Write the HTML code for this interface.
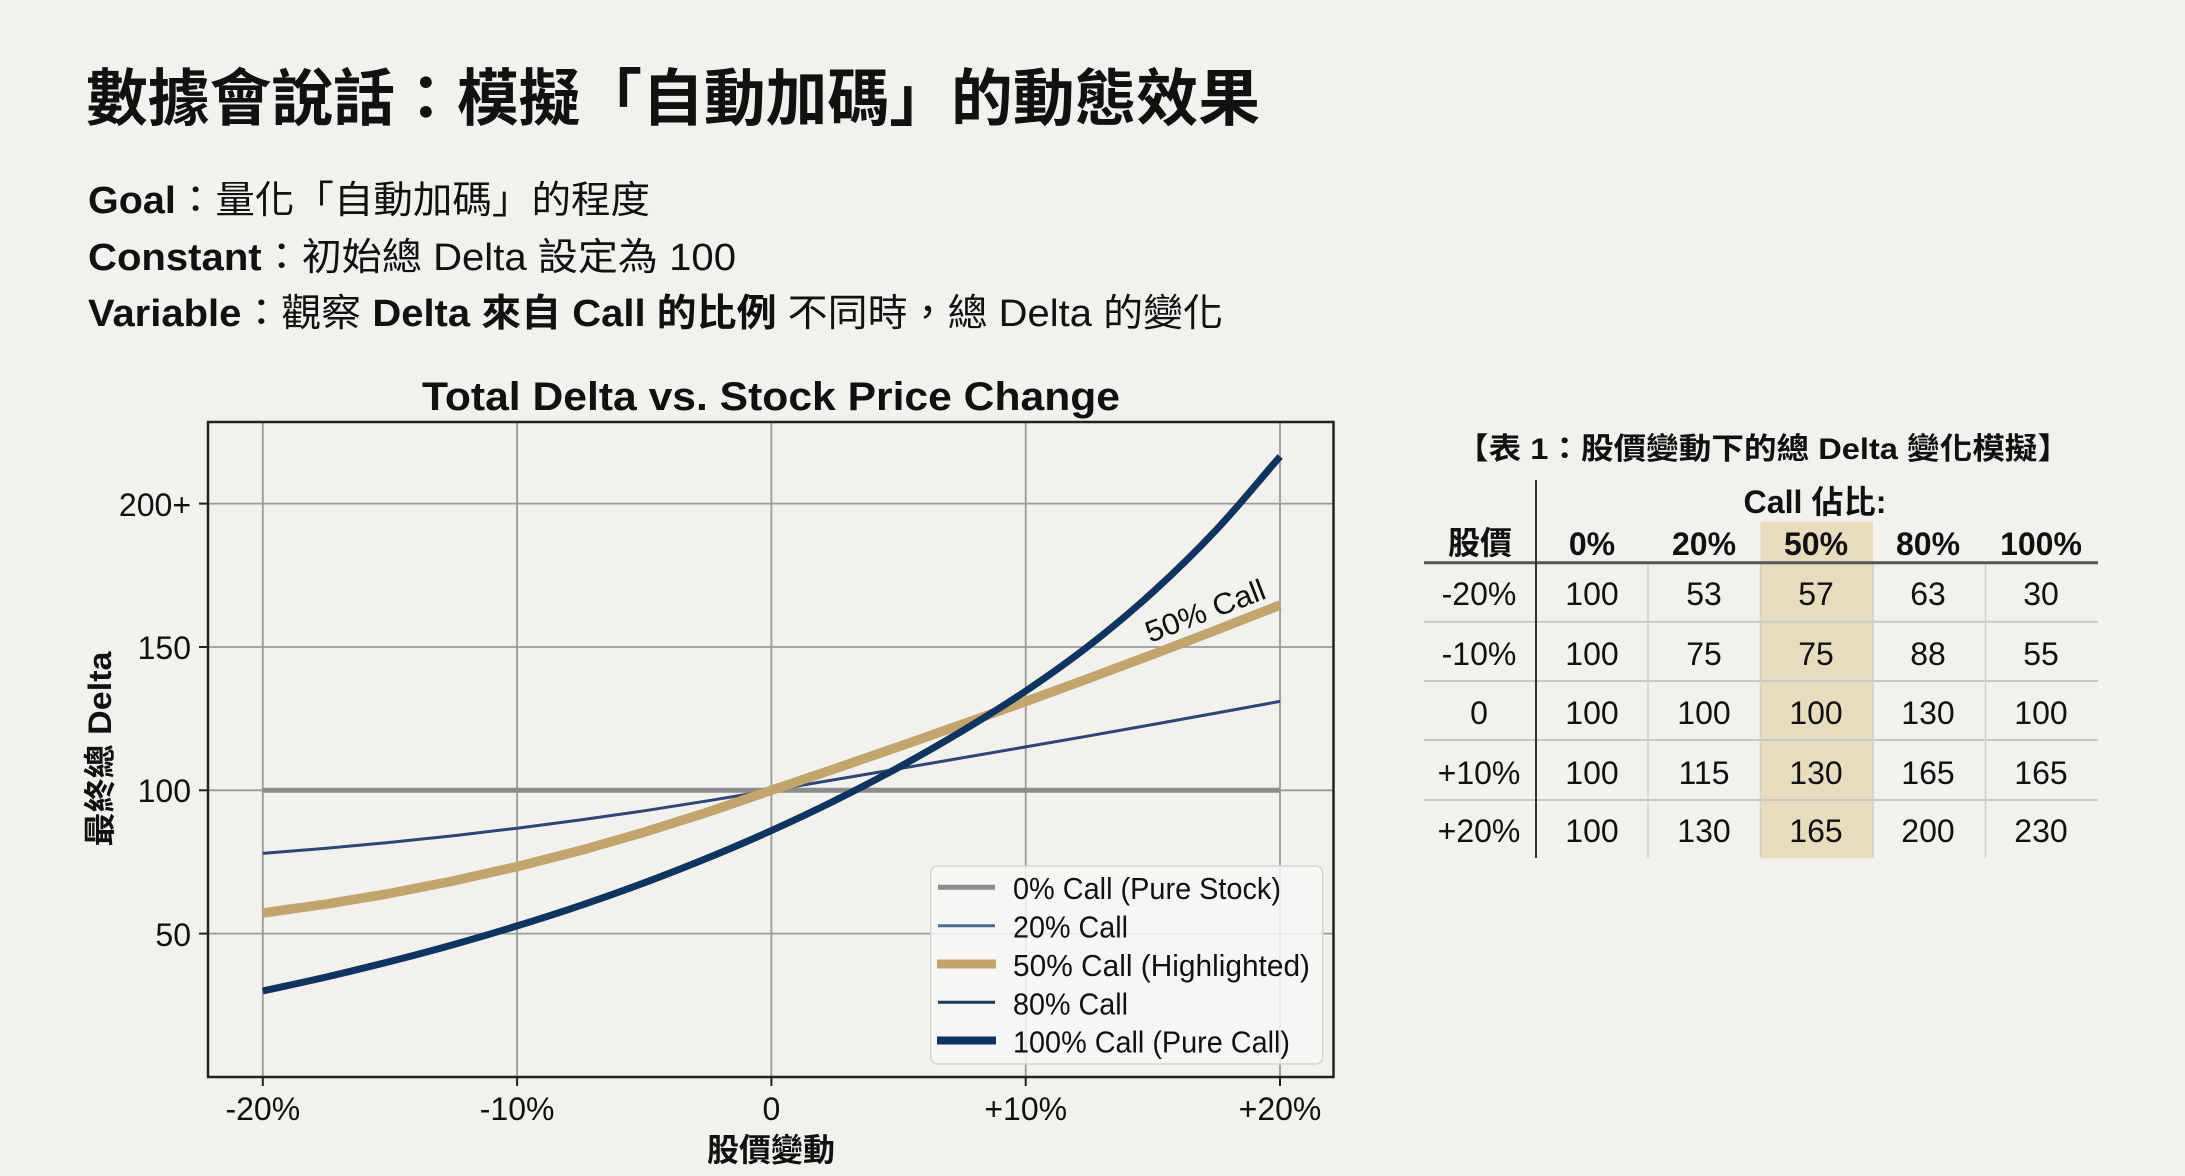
<!DOCTYPE html>
<html>
<head>
<meta charset="utf-8">
<style>
  html,body{margin:0;padding:0;background:#f2f1ed;}
  svg{display:block;}
  text{font-family:"Liberation Sans","Noto Sans CJK TC",sans-serif;fill:#111;}
  .b{font-weight:bold;}
</style>
</head>
<body>
<svg width="2185" height="1176" viewBox="0 0 2185 1176" xmlns="http://www.w3.org/2000/svg">
  <rect x="0" y="0" width="2185" height="1176" fill="#f2f1ed"/>

  <!-- Headline -->
  <text x="86" y="120" font-size="62" class="b" textLength="1174" lengthAdjust="spacingAndGlyphs">數據會說話：模擬「自動加碼」的動態效果</text>

  <!-- Subtitle lines -->
  <text x="88" y="213" font-size="38" textLength="562" lengthAdjust="spacingAndGlyphs"><tspan font-weight="bold">Goal</tspan>：量化「自動加碼」的程度</text>
  <text x="88" y="270" font-size="38" textLength="648" lengthAdjust="spacingAndGlyphs"><tspan font-weight="bold">Constant</tspan>：初始總 Delta 設定為 100</text>
  <text x="88" y="326" font-size="38" textLength="1135" lengthAdjust="spacingAndGlyphs"><tspan font-weight="bold">Variable</tspan>：觀察 <tspan font-weight="bold">Delta 來自 Call 的比例</tspan> 不同時，總 Delta 的變化</text>

  <!-- Chart title -->
  <text x="771" y="410" font-size="40" class="b" text-anchor="middle" textLength="698" lengthAdjust="spacingAndGlyphs">Total Delta vs. Stock Price Change</text>

  <!-- Grid -->
  <g stroke="#9a9a9a" stroke-width="1.8" fill="none">
    <line x1="262.8" y1="422" x2="262.8" y2="1077"/>
    <line x1="517.1" y1="422" x2="517.1" y2="1077"/>
    <line x1="771.4" y1="422" x2="771.4" y2="1077"/>
    <line x1="1025.7" y1="422" x2="1025.7" y2="1077"/>
    <line x1="1280" y1="422" x2="1280" y2="1077"/>
    <line x1="208" y1="503.6" x2="1333.5" y2="503.6"/>
    <line x1="208" y1="647" x2="1333.5" y2="647"/>
    <line x1="208" y1="790.3" x2="1333.5" y2="790.3"/>
    <line x1="208" y1="933.6" x2="1333.5" y2="933.6"/>
  </g>

  <!-- Ticks -->
  <g stroke="#222" stroke-width="2">
    <line x1="199" y1="503.6" x2="208" y2="503.6"/>
    <line x1="199" y1="647" x2="208" y2="647"/>
    <line x1="199" y1="790.3" x2="208" y2="790.3"/>
    <line x1="199" y1="933.6" x2="208" y2="933.6"/>
    <line x1="262.8" y1="1077" x2="262.8" y2="1086"/>
    <line x1="517.1" y1="1077" x2="517.1" y2="1086"/>
    <line x1="771.4" y1="1077" x2="771.4" y2="1086"/>
    <line x1="1025.7" y1="1077" x2="1025.7" y2="1086"/>
    <line x1="1280" y1="1077" x2="1280" y2="1086"/>
  </g>

  <!-- Y tick labels -->
  <g font-size="32" text-anchor="end">
    <text x="191" y="516">200+</text>
    <text x="191" y="659">150</text>
    <text x="191" y="802">100</text>
    <text x="191" y="946">50</text>
  </g>
  <!-- X tick labels -->
  <g font-size="32" text-anchor="middle">
    <text x="262.8" y="1120">-20%</text>
    <text x="517.1" y="1120">-10%</text>
    <text x="771.4" y="1120">0</text>
    <text x="1025.7" y="1120">+10%</text>
    <text x="1280" y="1120">+20%</text>
  </g>

  <!-- Axis labels -->
  <text x="771" y="1161" font-size="32" class="b" text-anchor="middle">股價變動</text>
  <text transform="translate(111 749) rotate(-90)" x="0" y="0" font-size="32" class="b" text-anchor="middle" textLength="195" lengthAdjust="spacingAndGlyphs">最終總 Delta</text>

  <!-- Series -->
  <g fill="none" stroke-linejoin="round">
    <line x1="262.8" y1="790.3" x2="1280" y2="790.3" stroke="#8c8c8c" stroke-width="5"/>
    <polyline stroke="#2e4674" stroke-width="3" points="262.8,853.4 326.4,848.3 390.0,842.4 453.5,835.7 517.1,828.2 580.7,819.9 644.2,810.8 707.8,800.8 771.4,790.3 835.0,779.6 898.6,768.8 962.1,757.9 1025.7,746.9 1089.3,735.8 1152.9,724.5 1216.4,713.0 1280.0,701.4"/>
    <polyline stroke="#c2a46d" stroke-width="9.5" points="262.8,913.0 326.4,904.1 390.0,893.4 453.5,880.9 517.1,866.6 580.7,850.4 644.2,832.2 707.8,812.1 771.4,790.3 835.0,768.7 898.6,746.7 962.1,724.3 1025.7,701.5 1089.3,678.2 1152.9,654.4 1216.4,630.0 1280.0,605.1"/>
    <path stroke="#0f3460" stroke-width="7" d="M262.8,991.0
      C284.0,986.33 305.2,981.92 326.4,977.0
      C347.6,972.08 368.8,966.9 390.0,961.5
      C411.2,956.1 432.3,950.53 453.5,944.6
      C474.7,938.67 495.9,932.43 517.1,925.9
      C538.3,919.37 559.5,912.58 580.7,905.4
      C601.9,898.22 623.1,890.72 644.3,882.8
      C665.5,874.88 686.7,866.6 707.9,857.9
      C729.1,849.2 750.2,840.17 771.4,830.6
      C792.6,821.03 813.8,811.03 835.0,800.5
      C856.2,789.97 877.4,778.98 898.6,767.4
      C919.8,755.82 941.0,743.73 962.2,731.0
      C983.4,718.27 1004.6,705.27 1025.8,691.0
      C1047.0,676.73 1068.1,661.9 1089.3,645.4
      C1110.5,628.9 1131.7,611.3 1152.9,592.0
      C1174.1,572.7 1195.3,552.18 1216.5,529.6
      C1237.7,507.02 1258.9,480.87 1280.1,456.5"/>
  </g>

  <!-- Annotation -->
  <text x="1150" y="643" font-size="30" transform="rotate(-21 1150 643)" textLength="126" lengthAdjust="spacingAndGlyphs">50% Call</text>

  <!-- Plot frame -->
  <rect x="208" y="422" width="1125.5" height="655" fill="none" stroke="#222" stroke-width="2.5"/>

  <!-- Legend -->
  <rect x="930.7" y="866" width="392" height="198" rx="7" ry="7" fill="rgba(247,247,245,0.85)" stroke="#d4d4d2" stroke-width="1.5"/>
  <line x1="938" y1="887.3" x2="995" y2="887.3" stroke="#8c8c8c" stroke-width="5"/>
  <line x1="938" y1="925.7" x2="995" y2="925.7" stroke="#4f6a94" stroke-width="3"/>
  <line x1="937" y1="964" x2="996" y2="964" stroke="#c2a46d" stroke-width="9"/>
  <line x1="938" y1="1002.3" x2="995" y2="1002.3" stroke="#1e3557" stroke-width="3"/>
  <line x1="937" y1="1040.5" x2="996" y2="1040.5" stroke="#0f3460" stroke-width="8"/>
  <g font-size="31">
    <text x="1013" y="899" textLength="268" lengthAdjust="spacingAndGlyphs">0% Call (Pure Stock)</text>
    <text x="1013" y="937.5" textLength="115" lengthAdjust="spacingAndGlyphs">20% Call</text>
    <text x="1013" y="976" textLength="297" lengthAdjust="spacingAndGlyphs">50% Call (Highlighted)</text>
    <text x="1013" y="1014.3" textLength="115" lengthAdjust="spacingAndGlyphs">80% Call</text>
    <text x="1013" y="1052.5" textLength="277" lengthAdjust="spacingAndGlyphs">100% Call (Pure Call)</text>
  </g>

  <!-- Table -->
  <text x="1456" y="459" font-size="30" class="b" textLength="614" lengthAdjust="spacingAndGlyphs">【表 1：股價變動下的總 Delta 變化模擬】</text>

  <rect x="1760.5" y="521.7" width="112.5" height="336.6" fill="#e8dcbf"/>

  <g stroke="#c9c9c6" stroke-width="2">
    <line x1="1424" y1="621.7" x2="2098" y2="621.7"/>
    <line x1="1424" y1="681" x2="2098" y2="681"/>
    <line x1="1424" y1="740" x2="2098" y2="740"/>
    <line x1="1424" y1="800" x2="2098" y2="800"/>
  </g>
  <g stroke="#cfcfcc" stroke-width="1.5">
    <line x1="1648" y1="562.7" x2="1648" y2="858"/>
    <line x1="1760.5" y1="562.7" x2="1760.5" y2="858"/>
    <line x1="1873" y1="562.7" x2="1873" y2="858"/>
    <line x1="1985.5" y1="562.7" x2="1985.5" y2="858"/>
  </g>
  <line x1="1424" y1="562.7" x2="2098" y2="562.7" stroke="#555" stroke-width="3"/>
  <line x1="1536" y1="480" x2="1536" y2="858" stroke="#333" stroke-width="2"/>

  <text x="1815" y="513" font-size="32" class="b" text-anchor="middle" textLength="143" lengthAdjust="spacingAndGlyphs">Call 佔比:</text>
  <g font-size="32" class="b" text-anchor="middle">
    <text x="1480" y="554">股價</text>
    <text x="1592" y="555">0%</text>
    <text x="1704" y="555">20%</text>
    <text x="1816" y="555">50%</text>
    <text x="1928" y="555">80%</text>
    <text x="2041" y="555">100%</text>
  </g>
  <g font-size="32" text-anchor="middle">
    <text x="1479" y="605">-20%</text>
    <text x="1592" y="605">100</text>
    <text x="1704" y="605">53</text>
    <text x="1816" y="605">57</text>
    <text x="1928" y="605">63</text>
    <text x="2041" y="605">30</text>

    <text x="1479" y="665">-10%</text>
    <text x="1592" y="665">100</text>
    <text x="1704" y="665">75</text>
    <text x="1816" y="665">75</text>
    <text x="1928" y="665">88</text>
    <text x="2041" y="665">55</text>

    <text x="1479" y="724">0</text>
    <text x="1592" y="724">100</text>
    <text x="1704" y="724">100</text>
    <text x="1816" y="724">100</text>
    <text x="1928" y="724">130</text>
    <text x="2041" y="724">100</text>

    <text x="1479" y="784">+10%</text>
    <text x="1592" y="784">100</text>
    <text x="1704" y="784">115</text>
    <text x="1816" y="784">130</text>
    <text x="1928" y="784">165</text>
    <text x="2041" y="784">165</text>

    <text x="1479" y="842">+20%</text>
    <text x="1592" y="842">100</text>
    <text x="1704" y="842">130</text>
    <text x="1816" y="842">165</text>
    <text x="1928" y="842">200</text>
    <text x="2041" y="842">230</text>
  </g>
</svg>
</body>
</html>
